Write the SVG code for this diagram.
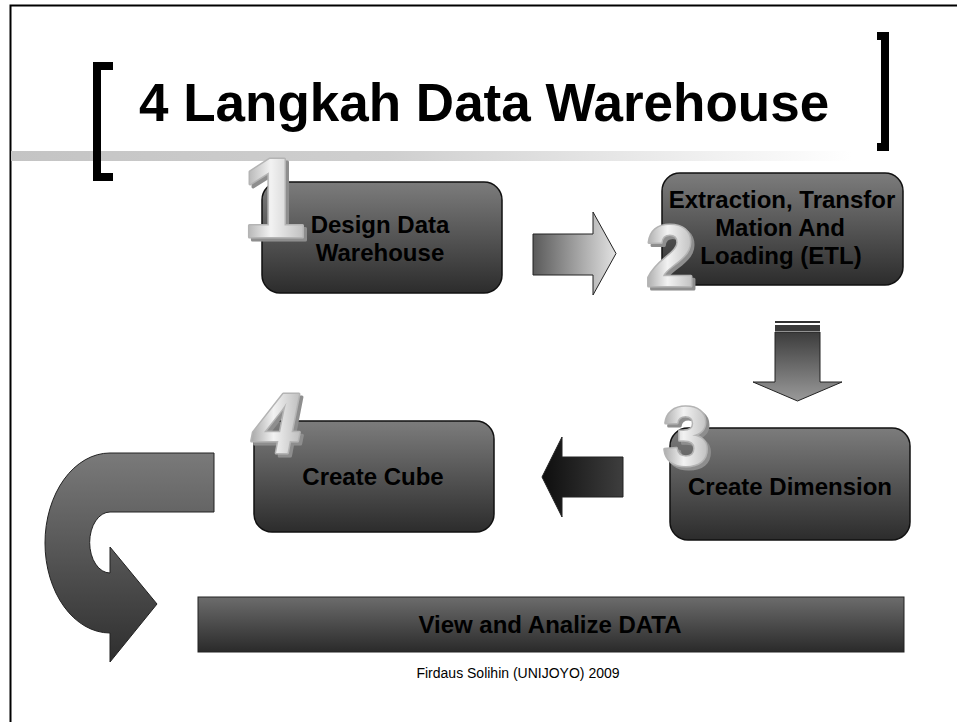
<svg xmlns="http://www.w3.org/2000/svg" width="957" height="722" viewBox="0 0 957 722">
<style>
.box{stroke:#111;stroke-width:1.5}
.lbl{font-family:"Liberation Sans",Arial,sans-serif;font-weight:bold;font-size:24px;fill:#000;text-anchor:middle}
.num{font-family:"Liberation Sans",Arial,sans-serif;font-weight:bold;text-anchor:middle;fill:url(#gNum);stroke:#b4b4b4;stroke-width:3;paint-order:stroke;stroke-linejoin:round;filter:url(#bevel)}
.arr{stroke:#222;stroke-width:1}
</style>
<defs>
<filter id="bevel" x="-20%" y="-20%" width="140%" height="140%">
<feFlood flood-color="#8e8e8e"/>
<feComposite in2="SourceAlpha" operator="in"/>
<feOffset dx="3" dy="3" result="s"/>
<feMerge><feMergeNode in="s"/><feMergeNode in="SourceGraphic"/></feMerge>
</filter>
<linearGradient id="gBox" x1="0" y1="0" x2="0" y2="1">
<stop offset="0" stop-color="#7c7c7c"/><stop offset="1" stop-color="#2c2c2c"/>
</linearGradient>
<linearGradient id="gBar" x1="0" y1="0" x2="0" y2="1">
<stop offset="0" stop-color="#6c6c6c"/><stop offset="1" stop-color="#2a2a2a"/>
</linearGradient>
<linearGradient id="gRule" x1="0" y1="0" x2="1" y2="0">
<stop offset="0" stop-color="#c4c4c4"/><stop offset="0.45" stop-color="#cfcfcf"/><stop offset="1" stop-color="#ffffff"/>
</linearGradient>
<linearGradient id="gNum" x1="0" y1="0" x2="1" y2="0">
<stop offset="0" stop-color="#a8a8a8"/><stop offset="0.45" stop-color="#f2f2f2"/><stop offset="1" stop-color="#bdbdbd"/>
</linearGradient>
<linearGradient id="gRight" x1="0" y1="0" x2="1" y2="0">
<stop offset="0" stop-color="#5a5a5a"/><stop offset="1" stop-color="#e2e2e2"/>
</linearGradient>
<linearGradient id="gDown" x1="0" y1="0" x2="0" y2="1">
<stop offset="0" stop-color="#3c3c3c"/><stop offset="1" stop-color="#9a9a9a"/>
</linearGradient>
<linearGradient id="gLeft" x1="0" y1="0" x2="1" y2="0">
<stop offset="0" stop-color="#0e0e0e"/><stop offset="1" stop-color="#3e3e3e"/>
</linearGradient>
<linearGradient id="gU" x1="0" y1="0" x2="0" y2="1">
<stop offset="0" stop-color="#7a7a7a"/><stop offset="1" stop-color="#2e2e2e"/>
</linearGradient>
</defs>
<rect x="0" y="0" width="957" height="722" fill="#fff"/>
<g id="frame">
<path d="M10.5,722 V5.5 H957" fill="none" stroke="#000" stroke-width="2"/>
<rect x="11" y="151" width="840" height="10" fill="url(#gRule)"/>
</g>
<g id="title">
<path d="M113,62 H93 V181 H113 V173 H101 V70 H113 Z" fill="#000"/>
<path d="M877,32 H889 V151 H877 V143 H881 V40 H877 Z" fill="#000"/>
<text x="139" y="121" font-family="Liberation Sans, Arial, sans-serif" font-weight="bold" font-size="53" fill="#000">4 Langkah Data Warehouse</text>
</g>
<g id="connectors">
<path class="arr" d="M533,234 H593 V212 L616,253.5 L593,295 V275 H533 Z" fill="url(#gRight)"/>
<rect x="775" y="321" width="45" height="2" fill="#333"/>
<rect x="775" y="325" width="45" height="6" fill="#3a3a3a"/>
<path class="arr" d="M775,332 H820 V382 H842 L797.5,401 L753,382 H775 Z" fill="url(#gDown)"/>
<path class="arr" d="M623,457 H562 V437 L542,477 L562,517 V497 H623 Z" fill="url(#gLeft)"/>
<path class="arr" d="M214,453 H110 A65,90 0 0 0 110,633 V662 L157,604 L110,547 V573 A20,30 0 0 1 110,512 H214 Z" fill="url(#gU)"/>
</g>
<g id="node1">
<rect class="box" x="262" y="182" width="240" height="111" rx="18" fill="url(#gBox)"/>
<text class="lbl" x="380" y="233">Design Data</text>
<text class="lbl" x="380" y="261">Warehouse</text>
<text class="num" x="274" y="237" font-size="114">1</text>
</g>
<g id="node2">
<rect class="box" x="662" y="173" width="241" height="112" rx="18" fill="url(#gBox)"/>
<text class="lbl" x="782" y="208">Extraction, Transfor</text>
<text class="lbl" x="780" y="236">Mation And</text>
<text class="lbl" x="781" y="264">Loading (ETL)</text>
<text class="num" x="670" y="286" font-size="88">2</text>
</g>
<g id="node3">
<rect class="box" x="670" y="428" width="240" height="112" rx="18" fill="url(#gBox)"/>
<text class="lbl" x="790" y="495">Create Dimension</text>
<text class="num" x="686" y="465" font-size="84">3</text>
</g>
<g id="node4">
<rect class="box" x="254" y="421" width="240" height="111" rx="18" fill="url(#gBox)"/>
<text class="lbl" x="373" y="485">Create Cube</text>
<text class="num" x="277" y="453" font-size="86" font-style="italic">4</text>
</g>
<g id="node5">
<rect x="198" y="597" width="706" height="55" fill="url(#gBar)" stroke="#222" stroke-width="1"/>
<text class="lbl" x="550" y="633">View and Analize DATA</text>
</g>
<text x="518" y="678" font-family="Liberation Sans, Arial, sans-serif" font-size="14" fill="#000" text-anchor="middle">Firdaus Solihin (UNIJOYO) 2009</text>
</svg>
